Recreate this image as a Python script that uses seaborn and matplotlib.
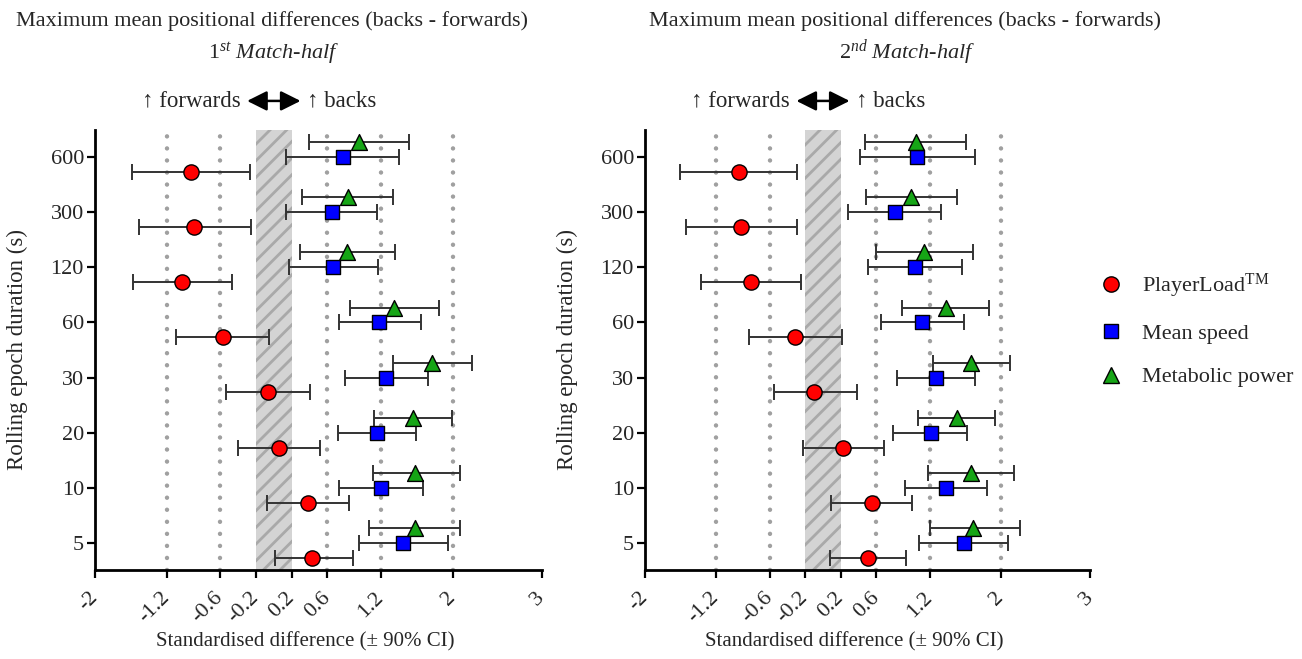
import numpy as np
import pandas as pd
import matplotlib
matplotlib.use('Agg')
import matplotlib.pyplot as plt
from matplotlib.lines import Line2D
import seaborn as sns

# epoch durations (s), bottom to top
durations = ['5', '10', '20', '30', '60', '120', '300', '600']
measures = ['PlayerLoad', 'Mean speed', 'Metabolic power']
x_ticks = [-2, -1.2, -0.6, -0.2, 0.2, 0.6, 1.2, 2, 3]
x_ticklabels = ['-2', '-1.2', '-0.6', '-0.2', '0.2', '0.6', '1.2', '2', '3']
ref_lines = [-1.2, -0.6, 0.6, 1.2, 2]

# 1st match-half
h1_pl = [0.43, 0.38, 0.06, -0.07, -0.57, -1.03, -0.89, -0.93]
h1_pl_lo = [0.01, -0.08, -0.40, -0.54, -1.09, -1.58, -1.51, -1.59]
h1_pl_hi = [0.88, 0.84, 0.52, 0.41, -0.05, -0.47, -0.26, -0.27]
h1_ms = [1.45, 1.20, 1.15, 1.26, 1.18, 0.66, 0.65, 0.77]
h1_ms_lo = [0.95, 0.73, 0.72, 0.80, 0.73, 0.17, 0.14, 0.14]
h1_ms_hi = [1.95, 1.67, 1.59, 1.72, 1.65, 1.17, 1.15, 1.40]
h1_mp = [1.58, 1.58, 1.56, 1.77, 1.34, 0.82, 0.83, 0.95]
h1_mp_lo = [1.07, 1.11, 1.12, 1.33, 0.85, 0.29, 0.32, 0.39]
h1_mp_hi = [2.08, 2.08, 1.99, 2.22, 1.85, 1.36, 1.33, 1.51]

# 2nd match-half
h2_pl = [0.51, 0.55, 0.23, -0.10, -0.31, -0.81, -0.92, -0.94]
h2_pl_lo = [0.08, 0.09, -0.23, -0.55, -0.83, -1.37, -1.54, -1.61]
h2_pl_hi = [0.93, 1.00, 0.69, 0.38, 0.21, -0.25, -0.29, -0.29]
h2_ms = [1.58, 1.38, 1.21, 1.27, 1.11, 1.03, 0.81, 1.06]
h2_ms_lo = [1.08, 0.92, 0.79, 0.83, 0.65, 0.50, 0.28, 0.42]
h2_ms_hi = [2.08, 1.84, 1.62, 1.71, 1.58, 1.56, 1.33, 1.71]
h2_mp = [1.69, 1.66, 1.50, 1.66, 1.38, 1.14, 0.99, 1.04]
h2_mp_lo = [1.20, 1.18, 1.07, 1.24, 0.89, 0.59, 0.48, 0.47]
h2_mp_hi = [2.21, 2.15, 1.93, 2.10, 1.86, 1.68, 1.51, 1.61]


def make_df(pl, pl_lo, pl_hi, ms, ms_lo, ms_hi, mp, mp_lo, mp_hi):
    frames = []
    for name, m, lo, hi in [('PlayerLoad', pl, pl_lo, pl_hi),
                            ('Mean speed', ms, ms_lo, ms_hi),
                            ('Metabolic power', mp, mp_lo, mp_hi)]:
        frames.append(pd.DataFrame({'duration': durations, 'measure': name,
                                    'mean': m, 'lo': lo, 'hi': hi}))
    return pd.concat(frames, ignore_index=True)


df1 = make_df(h1_pl, h1_pl_lo, h1_pl_hi, h1_ms, h1_ms_lo, h1_ms_hi, h1_mp, h1_mp_lo, h1_mp_hi)
df2 = make_df(h2_pl, h2_pl_lo, h2_pl_hi, h2_ms, h2_ms_lo, h2_ms_hi, h2_mp, h2_mp_lo, h2_mp_hi)

sns.set_style('ticks')
plt.rcParams['font.family'] = ['Liberation Serif', 'DejaVu Serif']
plt.rcParams['axes.unicode_minus'] = False
plt.rcParams['mathtext.fontset'] = 'custom'
plt.rcParams['mathtext.rm'] = 'Liberation Serif'
plt.rcParams['mathtext.it'] = 'Liberation Serif:italic'
plt.rcParams['hatch.color'] = '#a9a9a9'
plt.rcParams['hatch.linewidth'] = 2.0

colors = {'PlayerLoad': '#ff0000', 'Mean speed': '#0000ff', 'Metabolic power': '#16a516'}
markers = {'PlayerLoad': 'o', 'Mean speed': 's', 'Metabolic power': '^'}
sizes = {'PlayerLoad': 120, 'Mean speed': 105, 'Metabolic power': 130}
offsets = {'PlayerLoad': -0.27, 'Mean speed': 0.0, 'Metabolic power': 0.27}

fig = plt.figure(figsize=(13.02, 6.59), dpi=100)
ax1 = fig.add_axes([0.0730, 0.1351, 0.3433, 0.6677])
ax2 = fig.add_axes([0.4954, 0.1351, 0.3418, 0.6677])


def draw_panel(ax, df):
    # trivial zone and reference lines
    ax.axvspan(-0.2, 0.2, facecolor='#d4d4d4', edgecolor='#a9a9a9', hatch='//', lw=0, zorder=0)
    for xv in ref_lines:
        ax.axvline(xv, color='#a0a0a0', lw=3.2, linestyle=(0, (0.01, 2.7)),
                   dash_capstyle='round', zorder=0.5)
    df = df.copy()
    df['y'] = df['duration'].map({d: i for i, d in enumerate(durations)}) + df['measure'].map(offsets)
    for name in measures:
        sub = df[df['measure'] == name]
        ax.errorbar(sub['mean'], sub['y'],
                    xerr=[sub['mean'] - sub['lo'], sub['hi'] - sub['mean']],
                    fmt='none', ecolor='#333333', elinewidth=1.4, capsize=6, capthick=1.4, zorder=2)
        sns.scatterplot(data=sub, x='mean', y='y', ax=ax, marker=markers[name], color=colors[name],
                        s=sizes[name], edgecolor='black', linewidth=1.0, zorder=3, legend=False)
    ax.set_xlim(-2, 3)
    ax.set_ylim(-0.49, 7.49)
    ax.set_xticks(x_ticks)
    ax.set_xticklabels(x_ticklabels, rotation=45, ha='right', va='center', rotation_mode='anchor')
    ax.set_yticks(range(len(durations)))
    ax.set_yticklabels(durations)
    ax.tick_params(axis='both', labelsize=16, length=6, width=1.6, color='black', pad=2)
    ax.tick_params(axis='x', pad=12)
    for s in ['top', 'right']:
        ax.spines[s].set_visible(False)
    for s in ['left', 'bottom']:
        ax.spines[s].set_linewidth(2)
        ax.spines[s].set_color('black')
    ax.set_xlabel('Standardised difference (\u00b1 90% CI)', fontsize=15)
    ax.set_ylabel('Rolling epoch duration (s)', fontsize=16.5)
    ax.xaxis.set_label_coords(0.47, -0.142)
    ax.yaxis.set_label_coords(-0.15, 0.5)
    # direction key above the plot
    ax.annotate('', xy=(0.33, 1.066), xytext=(-0.33, 1.066),
                xycoords=('data', 'axes fraction'), textcoords=('data', 'axes fraction'),
                arrowprops=dict(arrowstyle='<|-|>', lw=1.8, color='black', mutation_scale=30),
                annotation_clip=False)
    ax.text(-0.37, 1.066, '\u2191 forwards', transform=ax.get_xaxis_transform(),
            ha='right', va='center', fontsize=16.5, clip_on=False)
    ax.text(0.37, 1.066, '\u2191 backs', transform=ax.get_xaxis_transform(),
            ha='left', va='center', fontsize=16.5, clip_on=False)


draw_panel(ax1, df1)
draw_panel(ax2, df2)

title = 'Maximum mean positional differences (backs - forwards)'
fig.text(0.209, 0.968, title, ha='center', va='center', fontsize=16)
fig.text(0.695, 0.968, title, ha='center', va='center', fontsize=16)
fig.text(0.210, 0.919, r'$\mathit{1}^{\mathit{st}}$ Match-half', ha='center', va='center',
         fontsize=16, style='italic')
fig.text(0.697, 0.919, r'$\mathit{2}^{\mathit{nd}}$ Match-half', ha='center', va='center',
         fontsize=16, style='italic')

handles = [Line2D([], [], linestyle='none', marker=markers[m], markersize=11 if m != 'Mean speed' else 10,
                  markerfacecolor=colors[m], markeredgecolor='black', markeredgewidth=1.0)
           for m in measures]
labels = [r'PlayerLoad$^{\mathrm{TM}}$', 'Mean speed', 'Metabolic power']
fig.legend(handles, labels, loc='center left', bbox_to_anchor=(0.8365, 0.50), frameon=False,
           fontsize=16, handlelength=1.0, handletextpad=0.9, labelspacing=1.05, borderpad=0)

fig.savefig('out.png', dpi=100)
